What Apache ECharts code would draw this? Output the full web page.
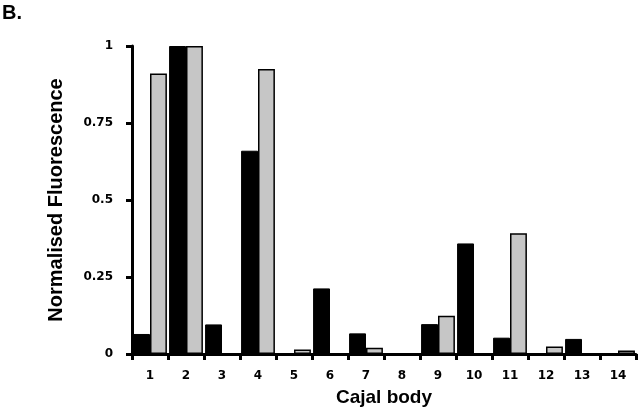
<!DOCTYPE html>
<html>
<head>
<meta charset="utf-8">
<script src="https://cdn.jsdelivr.net/npm/echarts@6/dist/echarts.min.js"></script>
<style>html,body{margin:0;padding:0;background:#fff;}#c{width:640px;height:415px;}</style>
</head>
<body>
<div id="c"></div>
<script>
var categories = ['1','2','3','4','5','6','7','8','9','10','11','12','13','14'];
var blackValues = [0.065, 1, 0.096, 0.66, 0, 0.213, 0.067, 0, 0.097, 0.359, 0.053, 0, 0.049, 0];
var grayValues = [0.911, 1, 0, 0.925, 0.015, 0, 0.02, 0, 0.124, 0, 0.392, 0.024, 0, 0.011];
var yTicks = [0, 0.25, 0.5, 0.75, 1];

var FONT = 'Liberation Sans, Arial, sans-serif';
var LFONT = 'DejaVu Sans, sans-serif';
var chart = echarts.init(document.getElementById('c'));
chart.setOption({
  animation: false,
  backgroundColor: '#fff',
  title: {
    text: 'B.', left: 2, top: 3, padding: 0,
    textStyle: {fontFamily: FONT, fontWeight: 'bold', fontSize: 20, color: '#000'}
  },
  grid: {left: 132, right: 4, top: 46, bottom: 61},
  xAxis: {
    type: 'category',
    data: categories,
    name: 'Cajal body',
    nameLocation: 'middle',
    nameGap: 34,
    nameTextStyle: {fontFamily: FONT, fontWeight: 'bold', fontSize: 19, color: '#000'},
    axisLine: {lineStyle: {color: '#000', width: 3}},
    axisTick: {show: true, length: 6, lineStyle: {color: '#000', width: 3}, alignWithLabel: false},
    axisLabel: {fontFamily: LFONT, fontWeight: 'bold', fontSize: 12, color: '#000', margin: 16}
  },
  yAxis: {
    type: 'value',
    min: 0, max: 1, interval: 0.25,
    name: 'Normalised Fluorescence',
    nameLocation: 'middle',
    nameGap: 66,
    nameTextStyle: {fontFamily: FONT, fontWeight: 'bold', fontSize: 20, color: '#000'},
    axisLine: {show: true, lineStyle: {color: '#000', width: 3}},
    axisTick: {show: true, length: 6, lineStyle: {color: '#000', width: 3}},
    splitLine: {show: false},
    axisLabel: {
      fontFamily: LFONT, fontWeight: 'bold', fontSize: 12, color: '#000', margin: 19,
      formatter: function (v) {
        for (var i = 0; i < yTicks.length; i++) { if (Math.abs(yTicks[i] - v) < 1e-9) return String(yTicks[i]); }
        return '';
      }
    }
  },
  series: [
    {
      type: 'bar', data: blackValues,
      barGap: '0%', barCategoryGap: '6%',
      itemStyle: {color: '#000', borderColor: '#000', borderWidth: 1}
    },
    {
      type: 'bar', data: grayValues,
      barGap: '0%', barCategoryGap: '6%',
      itemStyle: {color: '#c6c6c6', borderColor: '#000', borderWidth: 1.5}
    }
  ]
});
</script>
</body>
</html>
